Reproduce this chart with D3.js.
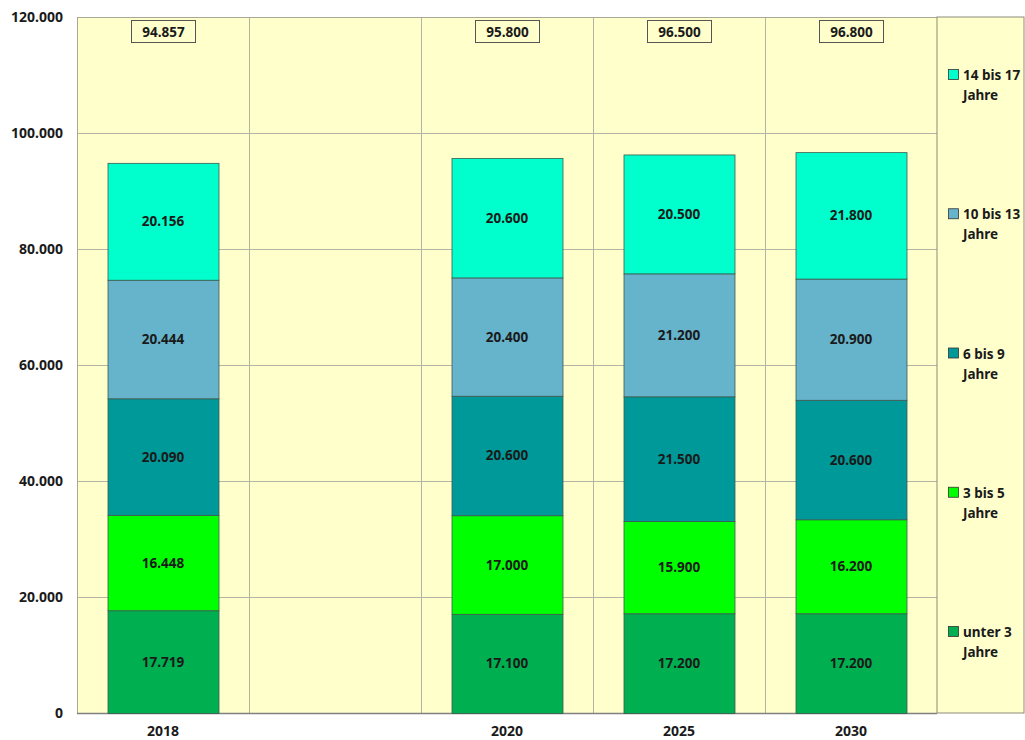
<!DOCTYPE html>
<html>
<head>
<meta charset="utf-8">
<script src="https://cdn.jsdelivr.net/npm/d3@7"></script>
<style>
  body { margin: 0; background: #ffffff; }
  #chart { width: 1025px; height: 740px; }
  text { font-family: "Noto Sans", "Liberation Sans", sans-serif; font-weight: bold; fill: #1a1a1a; }
</style>
</head>
<body>
<div id="chart"></div>
<script>
// categories (the second slot is an empty year column)
const years = ["2018", "", "2020", "2025", "2030"];
const unter3 = [17719, null, 17100, 17200, 17200];
const bis5 = [16448, null, 17000, 15900, 16200];
const bis9 = [20090, null, 20600, 21500, 20600];
const bis13 = [20444, null, 20400, 21200, 20900];
const bis17 = [20156, null, 20600, 20500, 21800];
const totals = [94857, null, 95800, 96500, 96800];
const seriesNames = ["unter 3|Jahre", "3 bis 5|Jahre", "6 bis 9|Jahre", "10 bis 13|Jahre", "14 bis 17|Jahre"];
const yTicks = [0, 20000, 40000, 60000, 80000, 100000, 120000];

const colors = ["#00b050", "#00ff00", "#009999", "#66b3cc", "#00ffcc"];
const seriesValues = [unter3, bis5, bis9, bis13, bis17];

const de = d3.formatLocale({decimal: ",", thousands: ".", grouping: [3], currency: ["", " €"]});
const fmt = de.format(",d");

const width = 1025, height = 740;
const margin = {top: 17, right: 88, bottom: 27, left: 77};
const innerW = width - margin.left - margin.right;
const innerH = height - margin.top - margin.bottom;

const svg = d3.select("#chart").append("svg")
    .attr("width", width)
    .attr("height", height);

const g = svg.append("g").attr("transform", `translate(${margin.left},${margin.top})`);

const x = d3.scaleBand().domain(d3.range(years.length)).range([0, innerW]).paddingInner(0).paddingOuter(0);
const y = d3.scaleLinear().domain([0, 120000]).range([innerH, 0]);
const barW = 111;

// plot background
g.append("rect")
    .attr("width", innerW).attr("height", innerH)
    .attr("fill", "#ffffcc");

// legend panel background
svg.append("rect")
    .attr("x", margin.left + innerW).attr("y", margin.top)
    .attr("width", width - margin.left - innerW - 1).attr("height", innerH)
    .attr("fill", "#ffffcc").attr("stroke", "#8c8c7c").attr("stroke-width", 1);

// grid lines
g.selectAll(".hgrid").data(yTicks.slice(1))
    .enter().append("line")
    .attr("x1", 0).attr("x2", innerW)
    .attr("y1", d => y(d) + 0.5).attr("y2", d => y(d) + 0.5)
    .attr("stroke", "#b4b4a4").attr("stroke-width", 1);

g.selectAll(".vgrid").data(d3.range(1, years.length))
    .enter().append("line")
    .attr("x1", d => x(d) + 0.5).attr("x2", d => x(d) + 0.5)
    .attr("y1", 0).attr("y2", innerH)
    .attr("stroke", "#b4b4a4").attr("stroke-width", 1);

// plot frame
g.append("line").attr("x1", 0.5).attr("x2", 0.5).attr("y1", 0).attr("y2", innerH).attr("stroke", "#a8a898");
g.append("line").attr("x1", 0).attr("x2", innerW).attr("y1", 0.5).attr("y2", 0.5).attr("stroke", "#a8a898");
g.append("line").attr("x1", 0).attr("x2", innerW).attr("y1", innerH + 0.5).attr("y2", innerH + 0.5).attr("stroke", "#808080").attr("stroke-width", 1.5);

// stacked bars
const stackRows = years.map((yr, i) => {
    const row = {i: i};
    seriesValues.forEach((s, k) => { row["s" + k] = s[i] || 0; });
    return row;
});
const stack = d3.stack().keys(seriesValues.map((s, k) => "s" + k));
const layers = stack(stackRows);

layers.forEach((layer, k) => {
    const lg = g.append("g");
    const segs = layer.filter(d => d.data["s" + k] > 0);
    lg.selectAll("rect").data(segs)
        .enter().append("rect")
        .attr("x", d => x(d.data.i) + (x.bandwidth() - barW) / 2 + 0.5)
        .attr("y", d => y(d[1]) + 0.5)
        .attr("width", barW)
        .attr("height", d => y(d[0]) - y(d[1]))
        .attr("fill", colors[k])
        .attr("stroke", "#3c5a50").attr("stroke-width", 0.8);
    lg.selectAll("text").data(segs)
        .enter().append("text")
        .attr("x", d => x(d.data.i) + x.bandwidth() / 2)
        .attr("y", d => (y(d[0]) + y(d[1])) / 2 + 5)
        .attr("text-anchor", "middle")
        .attr("font-size", 13.5)
        .text(d => fmt(d.data["s" + k]));
});

// total boxes at the top
const tot = g.selectAll(".total").data(totals.map((v, i) => ({v, i})).filter(d => d.v))
    .enter().append("g");
tot.append("rect")
    .attr("x", d => x(d.i) + x.bandwidth() / 2 - 32 + 0.5)
    .attr("y", 3.5)
    .attr("width", 64).attr("height", 22)
    .attr("fill", "#ffffcc").attr("stroke", "#555555").attr("stroke-width", 1);
tot.append("text")
    .attr("x", d => x(d.i) + x.bandwidth() / 2 + 0.5)
    .attr("y", 20)
    .attr("text-anchor", "middle")
    .attr("font-size", 13.5)
    .text(d => fmt(d.v));

// y axis labels
const yAxis = d3.axisLeft(y).tickValues(yTicks).tickFormat(fmt).tickSize(0).tickPadding(14);
const ya = g.append("g").call(yAxis);
ya.select(".domain").remove();
ya.selectAll("text").attr("font-size", 14).attr("font-family", null).attr("fill", null);

// x axis labels
const xAxis = d3.axisBottom(x).tickFormat(i => years[i]).tickSize(0).tickPadding(13);
const xa = g.append("g").attr("transform", `translate(0,${innerH})`).call(xAxis);
xa.select(".domain").remove();
xa.selectAll("text").attr("font-size", 14).attr("font-family", null).attr("fill", null);

// legend (top entry = last series)
const legendY = d3.scalePoint().domain(d3.range(seriesNames.length).reverse()).range([76, 633]);
const leg = svg.selectAll(".legend").data(seriesNames.map((n, k) => ({n, k})))
    .enter().append("g")
    .attr("transform", d => `translate(948,${legendY(d.k)})`);
leg.append("rect")
    .attr("x", 0.5).attr("y", -6.5)
    .attr("width", 10).attr("height", 10)
    .attr("fill", d => colors[d.k]).attr("stroke", "#333333").attr("stroke-width", 0.8);
leg.append("text")
    .attr("x", 15).attr("y", 4)
    .attr("font-size", 13.5)
    .text(d => d.n.split("|")[0]);
leg.append("text")
    .attr("x", 15).attr("y", 24)
    .attr("font-size", 13.5)
    .text(d => d.n.split("|")[1]);
</script>
</body>
</html>
